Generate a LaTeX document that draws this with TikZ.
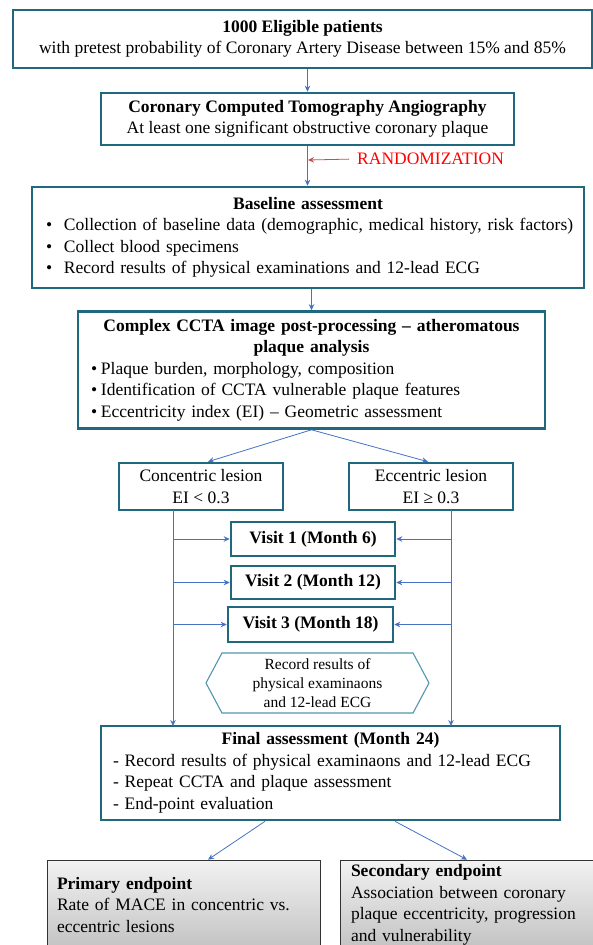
\documentclass[tikz,border=0pt]{standalone}
\usepackage{fontspec}
\setmainfont{Liberation Serif}
\usetikzlibrary{arrows.meta,positioning,shapes.symbols}
\definecolor{boxteal}{RGB}{31,104,125}
\definecolor{hexteal}{RGB}{80,150,172}
\definecolor{flowblue}{RGB}{68,114,196}
\definecolor{randred}{RGB}{192,80,77}
\newcommand{\bul}[1]{\hspace*{14pt}\makebox[18pt][l]{\textbullet}#1}
\newcommand{\sbul}[1]{\hspace*{13pt}\makebox[10pt][l]{\textbullet}#1}
\tikzset{
  tealbox/.style={draw=boxteal, line width=2.6pt, rectangle, inner sep=0pt, align=center},
  listbox/.style={tealbox, align=left},
  visitbox/.style={tealbox, minimum width=164pt, font=\fontsize{17.5}{21}\selectfont\bfseries},
  endbox/.style={draw=black!80, line width=0.7pt, rectangle, inner ysep=0pt, align=left,
    top color=gray!10, bottom color=gray!48},
  flow/.style={draw=flowblue, line width=0.8pt, -{Stealth[length=6pt,width=5.5pt]}},
  randarrow/.style={draw=randred, line width=0.8pt, -{Stealth[length=6pt,width=5.5pt]}}
}
\begin{document}
\begin{tikzpicture}[x=1pt, y=-1pt, font=\fontsize{17.5}{21.5}\selectfont]
  \useasboundingbox (0,0) rectangle (593,945);
  % main column
  \node[tealbox, minimum width=579pt, minimum height=58pt] (pat) at (302.5,39)
    {\textbf{1000 Eligible patients}\\with pretest probability of Coronary Artery Disease between 15\% and 85\%};
  \node[tealbox, minimum width=413pt, minimum height=52pt] (ccta) at (307.5,119)
    {\textbf{Coronary Computed Tomography Angiography}\\At least one significant obstructive coronary plaque};
  \node[listbox, text width=552pt, minimum height=101pt] (base) at (308,237.5)
    {{\centering\bfseries Baseline assessment\par}
     \bul{Collection of baseline data (demographic, medical history, risk factors)}\\
     \bul{Collect blood specimens}\\
     \bul{Record results of physical examinations and 12-lead ECG}};
  \node[listbox, text width=467pt, minimum height=117pt] (cplx) at (311.5,370)
    {{\centering\bfseries Complex CCTA image post-processing -- atheromatous\\plaque analysis\par}
     \sbul{Plaque burden, morphology, composition}\\
     \sbul{Identification of CCTA vulnerable plaque features}\\
     \sbul{Eccentricity index (EI) -- Geometric assessment}};
  \node[text=red, anchor=west, inner sep=2pt] (rand) at (355,159) {RANDOMIZATION};
  \coordinate (randtip) at (308,160);
  % lesion groups
  \node[tealbox, minimum width=164pt, minimum height=47pt] (conc) at (201,486.5)
    {Concentric lesion\\EI < 0.3};
  \node[tealbox, minimum width=164pt, minimum height=47pt] (ecc) at (431,486.5)
    {Eccentric lesion\\EI ≥ 0.3};
  % follow-up visits
  \node[visitbox, minimum height=34pt] (v1) at (313,539) {Visit 1 (Month 6)};
  \node[visitbox, minimum height=33pt] (v2) at (313,582.5) {Visit 2 (Month 12)};
  \node[visitbox, minimum width=165pt, minimum height=35pt] (v3) at (310.5,624.5) {Visit 3 (Month 18)};
  \node[signal, signal to=west and east, signal pointer angle=124, draw=hexteal, line width=1.1pt,
    minimum width=223pt, minimum height=60pt, inner sep=0pt, align=center,
    font=\fontsize{15.5}{19}\selectfont] (hex) at (317.5,683)
    {Record results of\\physical examinaons\\and 12-lead ECG};
  \node[listbox, text width=459pt, minimum height=94pt] (final) at (330.5,773)
    {{\centering\bfseries Final assessment (Month 24)\par}
     \hspace*{12pt}- Record results of physical examinaons and 12-lead ECG\\
     \hspace*{12pt}- Repeat CCTA and plaque assessment\\
     \hspace*{12pt}- End-point evaluation};
  % endpoints
  \node[endbox, minimum width=273pt, minimum height=90pt, inner xsep=10pt, text width=253pt] (prim) at (183.5,905)
    {\textbf{Primary endpoint}\\Rate of MACE in concentric vs.\\eccentric lesions};
  \node[endbox, minimum width=260pt, minimum height=90pt, inner xsep=11pt, text width=238pt] (sec) at (470,905)
    {\textbf{Secondary endpoint}\\Association between coronary\\plaque eccentricity, progression\\and vulnerability};
  % rails beside the visits
  \coordinate (ltop) at (173,510);
  \coordinate (lbot) at (173,726);
  \coordinate (rtop) at (451,510);
  \coordinate (rbot) at (451,726);
  %
  \draw[flow] (ccta.north |- pat.south) -- (ccta.north);
  \draw[flow] (ccta.south) -- (ccta.south |- base.north);
  \draw[randarrow, shorten <=6pt] (rand.west) -- (randtip);
  \draw[flow] (base.south -| cplx.north) -- (cplx.north);
  \draw[flow] (cplx.south) -- ([xshift=7pt]conc.north);
  \draw[flow] (cplx.south) -- ([xshift=-3pt]ecc.north);
  \draw[flow] (ltop) -- (lbot);
  \draw[flow] (rtop) -- (rbot);
  \foreach \v in {v1,v2,v3} {
    \draw[flow] (ltop |- \v.west) -- (\v.west);
    \draw[flow] (rtop |- \v.east) -- (\v.east);
  }
  \draw[flow] ([xshift=-65.5pt]final.south) -- ([xshift=24.5pt]prim.north);
  \draw[flow] ([xshift=64.5pt]final.south) -- ([xshift=-3pt]sec.north);
\end{tikzpicture}
\end{document}
